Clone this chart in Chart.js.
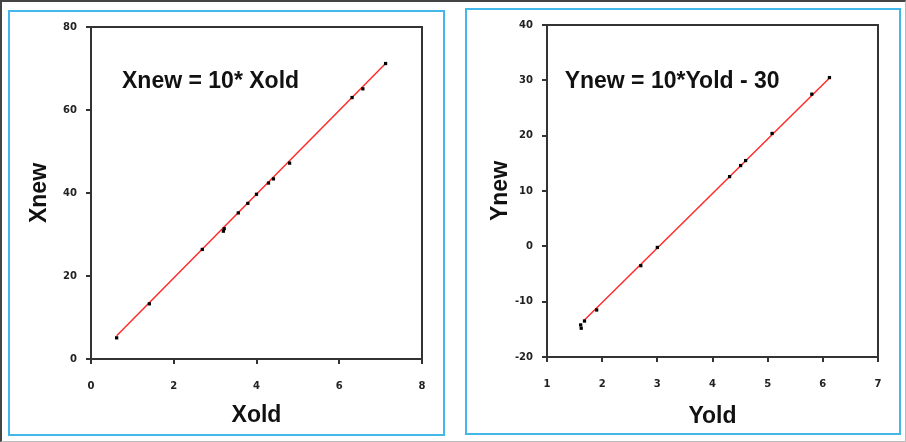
<!DOCTYPE html>
<html>
<head>
<meta charset="utf-8">
<script src="https://cdn.jsdelivr.net/npm/chart.js@4.4.1/dist/chart.umd.min.js"></script>
<style>
  body { margin: 0; background: #fff; }
  #page { position: relative; width: 906px; height: 442px; box-sizing: border-box;
          border-top: 2px solid #444; border-left: 2px solid #444;
          border-right: 1px solid #bbb; border-bottom: 1px solid #bbb; overflow: hidden; }
  .frame { position: absolute; box-sizing: border-box; border: 2px solid #43b7ea; }
  canvas { position: absolute; }
</style>
</head>
<body>
<div id="page">
  <div class="frame" style="left:6px; top:8px; width:437px; height:426px;"></div>
  <div class="frame" style="left:463px; top:6px; width:436px; height:427px;"></div>
  <canvas id="leftChart" width="432" height="422" style="left:8px; top:10px;"></canvas>
  <canvas id="rightChart" width="432" height="423" style="left:465px; top:8px;"></canvas>
</div>
<script>
// Left panel: Xnew vs Xold
const xOld = [0.62, 1.41, 2.69, 3.20, 3.22, 3.56, 3.79, 4.00, 4.29, 4.41, 4.80, 6.31, 6.57, 7.12];
const xNew = [5.1, 13.3, 26.4, 30.8, 31.4, 35.2, 37.5, 39.7, 42.4, 43.4, 47.2, 63.0, 65.1, 71.2];
const xLineX = [0.62, 7.12];
const xLineY = [5.6, 71.2];
const xTicksX = [0, 2, 4, 6, 8];
const xTicksY = [0, 20, 40, 60, 80];

// Right panel: Ynew vs Yold
const yOld = [1.61, 1.62, 1.68, 1.90, 2.70, 3.00, 4.31, 4.51, 4.60, 5.08, 5.80, 6.12];
const yNew = [-14.2, -14.8, -13.5, -11.5, -3.5, -0.2, 12.6, 14.6, 15.5, 20.4, 27.5, 30.5];
const yLineX = [1.66, 6.13];
const yLineY = [-13.5, 30.5];
const yTicksX = [1, 2, 3, 4, 5, 6, 7];
const yTicksY = [-20, -10, 0, 10, 20, 30, 40];

const axisColor = '#333';
const tickFont = { family: 'DejaVu Sans', size: 10, weight: 'bold' };
const titleFont = { family: 'Liberation Sans', size: 23, weight: 'bold' };

const toPoints = (xs, ys) => xs.map((x, i) => ({ x: x, y: ys[i] }));

// draws the closed box round the plot area and the equation text
const boxAndLabel = {
    id: 'boxAndLabel',
    afterDatasetsDraw(chart, args, opts) {
        const { ctx, chartArea, scales } = chart;
        ctx.save();
        ctx.strokeStyle = axisColor;
        ctx.lineWidth = 2;
        ctx.strokeRect(chartArea.left, chartArea.top, chartArea.right - chartArea.left, chartArea.bottom - chartArea.top);
        ctx.fillStyle = '#111';
        ctx.font = 'bold 23px "Liberation Sans"';
        ctx.textBaseline = 'middle';
        ctx.fillText(opts.text, scales.x.getPixelForValue(opts.x), scales.y.getPixelForValue(opts.y));
        ctx.restore();
    }
};

const makeChart = (id, cfg) => {
    const ctx = document.getElementById(id).getContext('2d');
    return new Chart(ctx, {
        type: 'scatter',
        data: {
            datasets: [
                {
                    type: 'line',
                    data: toPoints(cfg.lineX, cfg.lineY),
                    borderColor: '#ff2a2a',
                    borderWidth: 1.5,
                    pointRadius: 0,
                    fill: false,
                    order: 2
                },
                {
                    data: toPoints(cfg.px, cfg.py),
                    pointStyle: 'rect',
                    pointRadius: 2.3,
                    backgroundColor: '#000',
                    borderColor: '#000',
                    borderWidth: 0,
                    order: 1
                }
            ]
        },
        options: {
            responsive: false,
            animation: false,
            devicePixelRatio: 1,
            layout: { padding: { top: cfg.padTop, right: cfg.padRight, left: 0, bottom: 0 } },
            plugins: {
                legend: { display: false },
                tooltip: { enabled: false },
                boxAndLabel: { text: cfg.text, x: cfg.textX, y: cfg.textY }
            },
            scales: {
                x: {
                    type: 'linear',
                    min: cfg.ticksX[0],
                    max: cfg.ticksX[cfg.ticksX.length - 1],
                    afterBuildTicks: axis => { axis.ticks = cfg.ticksX.map(v => ({ value: v })); },
                    afterFit: axis => { axis.height = cfg.xHeight; },
                    grid: { drawOnChartArea: false, tickLength: 5, color: axisColor, lineWidth: 2 },
                    border: { color: axisColor, width: 2 },
                    ticks: { font: tickFont, color: '#222', padding: 16, maxRotation: 0 },
                    title: { display: true, text: cfg.titleX, font: titleFont, color: '#111', padding: { top: 0, bottom: cfg.titleXPad } }
                },
                y: {
                    type: 'linear',
                    min: cfg.ticksY[0],
                    max: cfg.ticksY[cfg.ticksY.length - 1],
                    afterBuildTicks: axis => { axis.ticks = cfg.ticksY.map(v => ({ value: v })); },
                    afterFit: axis => { axis.width = cfg.yWidth; },
                    grid: { drawOnChartArea: false, tickLength: 5, color: axisColor, lineWidth: 2 },
                    border: { color: axisColor, width: 2 },
                    ticks: { font: tickFont, color: '#222', padding: 9 },
                    title: { display: true, text: cfg.titleY, font: titleFont, color: '#111', padding: { top: cfg.titleYPad, bottom: 0 } }
                }
            }
        },
        plugins: [boxAndLabel]
    });
};

makeChart('leftChart', {
    px: xOld, py: xNew, lineX: xLineX, lineY: xLineY,
    ticksX: xTicksX, ticksY: xTicksY,
    titleX: 'Xold', titleY: 'Xnew',
    text: 'Xnew = 10* Xold', textX: 0.75, textY: 66.9,
    padTop: 12, padRight: 20, xHeight: 75, yWidth: 81,
    titleXPad: 5, titleYPad: 16
});

makeChart('rightChart', {
    px: yOld, py: yNew, lineX: yLineX, lineY: yLineY,
    ticksX: yTicksX, ticksY: yTicksY,
    titleX: 'Yold', titleY: 'Ynew',
    text: 'Ynew = 10*Yold - 30', textX: 1.32, textY: 29.8,
    padTop: 13, padRight: 21, xHeight: 76, yWidth: 80,
    titleXPad: 3, titleYPad: 20
});
</script>
</body>
</html>
